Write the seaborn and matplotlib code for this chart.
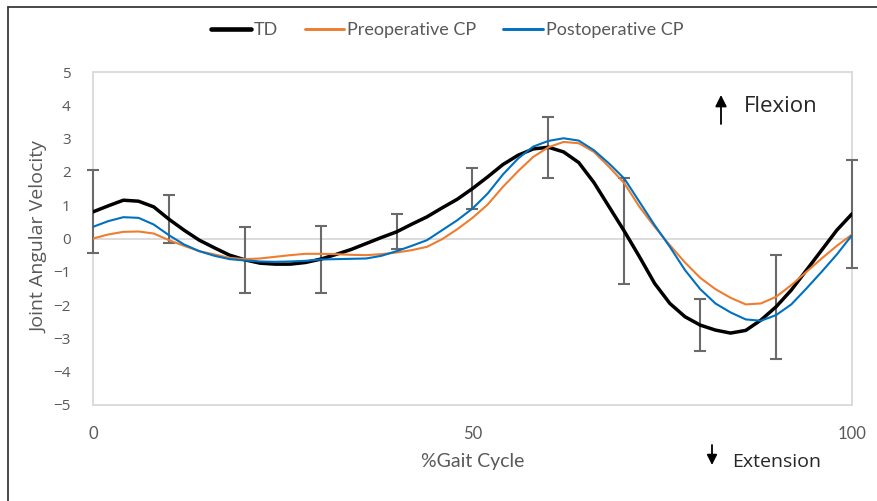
import numpy as np
import pandas as pd
import matplotlib
matplotlib.use("Agg")
import matplotlib.pyplot as plt
import seaborn as sns
from matplotlib.lines import Line2D

# % of gait cycle, sampled every 2 %
gait_pct = list(range(0, 101, 2))

td = [0.80, 0.98, 1.15, 1.12, 0.95, 0.58, 0.25, -0.05, -0.28, -0.50,
      -0.64, -0.74, -0.77, -0.77, -0.72, -0.62, -0.48, -0.33, -0.15, 0.03,
      0.20, 0.43, 0.65, 0.92, 1.18, 1.50, 1.85, 2.22, 2.50, 2.69,
      2.74, 2.60, 2.28, 1.68, 0.95, 0.22, -0.55, -1.35, -1.95, -2.35,
      -2.60, -2.75, -2.84, -2.76, -2.45, -2.05, -1.55, -0.95, -0.35, 0.25,
      0.74]

preop = [0.00, 0.12, 0.20, 0.21, 0.15, -0.05, -0.22, -0.38, -0.48, -0.58,
         -0.62, -0.60, -0.55, -0.50, -0.46, -0.46, -0.47, -0.49, -0.50, -0.47,
         -0.42, -0.35, -0.25, -0.02, 0.28, 0.62, 1.02, 1.55, 2.02, 2.45,
         2.74, 2.90, 2.86, 2.60, 2.15, 1.66, 0.95, 0.35, -0.20, -0.72,
         -1.18, -1.52, -1.78, -1.98, -1.95, -1.75, -1.40, -1.00, -0.60, -0.22,
         0.12]

postop = [0.35, 0.52, 0.64, 0.62, 0.42, 0.10, -0.18, -0.38, -0.52, -0.62,
          -0.66, -0.69, -0.70, -0.69, -0.67, -0.63, -0.62, -0.61, -0.60, -0.52,
          -0.38, -0.22, -0.05, 0.25, 0.55, 0.90, 1.35, 1.92, 2.40, 2.76,
          2.93, 3.01, 2.94, 2.65, 2.25, 1.80, 1.10, 0.40, -0.25, -0.95,
          -1.52, -1.95, -2.22, -2.43, -2.47, -2.30, -1.98, -1.50, -1.00, -0.48,
          0.10]

# standard deviation of the TD group, every 10 %
sd_pct = list(range(0, 101, 10))
td_sd = [1.25, 0.73, 1.00, 1.01, 0.53, 0.62, 0.92, 1.60, 0.79, 1.56, 1.62]

series_names = ["TD", "Preoperative CP", "Postoperative CP"]
series_colors = ["#000000", "#ED7D31", "#0070C0"]
series_widths = [2.5, 1.5, 1.5]

y_ticks = list(range(-5, 6))
x_ticks = [0, 50, 100]

df = pd.DataFrame({
    "gait": gait_pct * 3,
    "velocity": td + preop + postop,
    "group": np.repeat(series_names, len(gait_pct)),
})

sns.set_theme(style="white")
TEXT = "#595959"
GRID = "#d9d9d9"

W, H = 878, 501
fig = plt.figure(figsize=(W / 100, H / 100), dpi=100)
fig.patch.set_facecolor("white")
ax = fig.add_axes([93 / W, 1 - 405 / H, (852 - 93) / W, (405 - 72) / H])

ax.axhline(0, color=GRID, lw=1.3, zorder=1)

# TD standard-deviation bars (drawn above the plot-area border)
td_at_sd = [td[gait_pct.index(p)] for p in sd_pct]
eb = ax.errorbar(sd_pct, td_at_sd, yerr=td_sd, fmt="none", ecolor="#6a6a6a",
                 elinewidth=1.5, capsize=4.5, capthick=1.5, zorder=2.7)
for art in eb.lines[1] + eb.lines[2]:
    art.set_clip_on(False)

for name, col, lw in zip(series_names, series_colors, series_widths):
    sub = df[df["group"] == name]
    sns.lineplot(data=sub, x="gait", y="velocity", color=col, linewidth=lw,
                 ax=ax, legend=False, zorder=3)

ax.set_xlim(0, 100)
ax.set_ylim(-5, 5)
ax.set_xticks(x_ticks)
ax.set_yticks(y_ticks)
ax.set_xlabel("")
ax.set_ylabel("")
ax.tick_params(axis="both", length=0)
ax.tick_params(axis="y", pad=16)
ax.tick_params(axis="x", pad=15)
for lab in ax.get_yticklabels():
    lab.set_fontfamily("Open Sans")
    lab.set_fontsize(11)
    lab.set_color(TEXT)
for lab in ax.get_xticklabels():
    lab.set_fontfamily("Lato")
    lab.set_fontsize(12)
    lab.set_color(TEXT)
for sp in ax.spines.values():
    sp.set_visible(True)
    sp.set_color(GRID)
    sp.set_linewidth(1.3)

fig.text(40 / W, 1 - 237 / H, "Joint Angular Velocity", rotation=90,
         ha="center", va="center", fontfamily="Open Sans", fontsize=14, color=TEXT)
fig.text(473 / W, 1 - 462 / H, "%Gait Cycle", ha="center", va="center",
         fontfamily="Lato", fontsize=14, color=TEXT)

# direction annotations
fig.text(744 / W, 1 - 106 / H, "Flexion", ha="left", va="center",
         fontfamily="Open Sans", fontsize=16, color="#262626")
ax.annotate("", xy=(721, H - 95), xytext=(721, H - 124), xycoords="figure pixels",
            textcoords="figure pixels",
            arrowprops=dict(arrowstyle="-|>", color="black", lw=1.3,
                            mutation_scale=17, shrinkA=0, shrinkB=0))
fig.text(732 / W, 1 - 462 / H, "Extension", ha="left", va="center",
         fontfamily="Open Sans", fontsize=14, color="#262626")
ax.annotate("", xy=(712, H - 465), xytext=(712, H - 445), xycoords="figure pixels",
            textcoords="figure pixels",
            arrowprops=dict(arrowstyle="-|>", color="black", lw=1.3,
                            mutation_scale=15, shrinkA=0, shrinkB=0))

handles = [Line2D([0], [0], color=c, lw=w + (0.8 if i == 0 else 0.6))
           for i, (c, w) in enumerate(zip(series_colors, series_widths))]
leg = fig.legend(handles, series_names, loc="center", bbox_to_anchor=(447 / W, 1 - 30 / H),
                 ncol=3, frameon=False, handlelength=2.2, handletextpad=0.15,
                 columnspacing=1.5, prop={"family": "Lato", "size": 13})
for t in leg.get_texts():
    t.set_color(TEXT)

# frame around the chart
fig.add_artist(Line2D([8 / W, 8 / W], [0, 1 - 7 / H], color="#3a3a3a", lw=1.3))
fig.add_artist(Line2D([8 / W, 1], [1 - 7 / H, 1 - 7 / H], color="#3a3a3a", lw=1.3))

fig.savefig("out.png", dpi=100)
